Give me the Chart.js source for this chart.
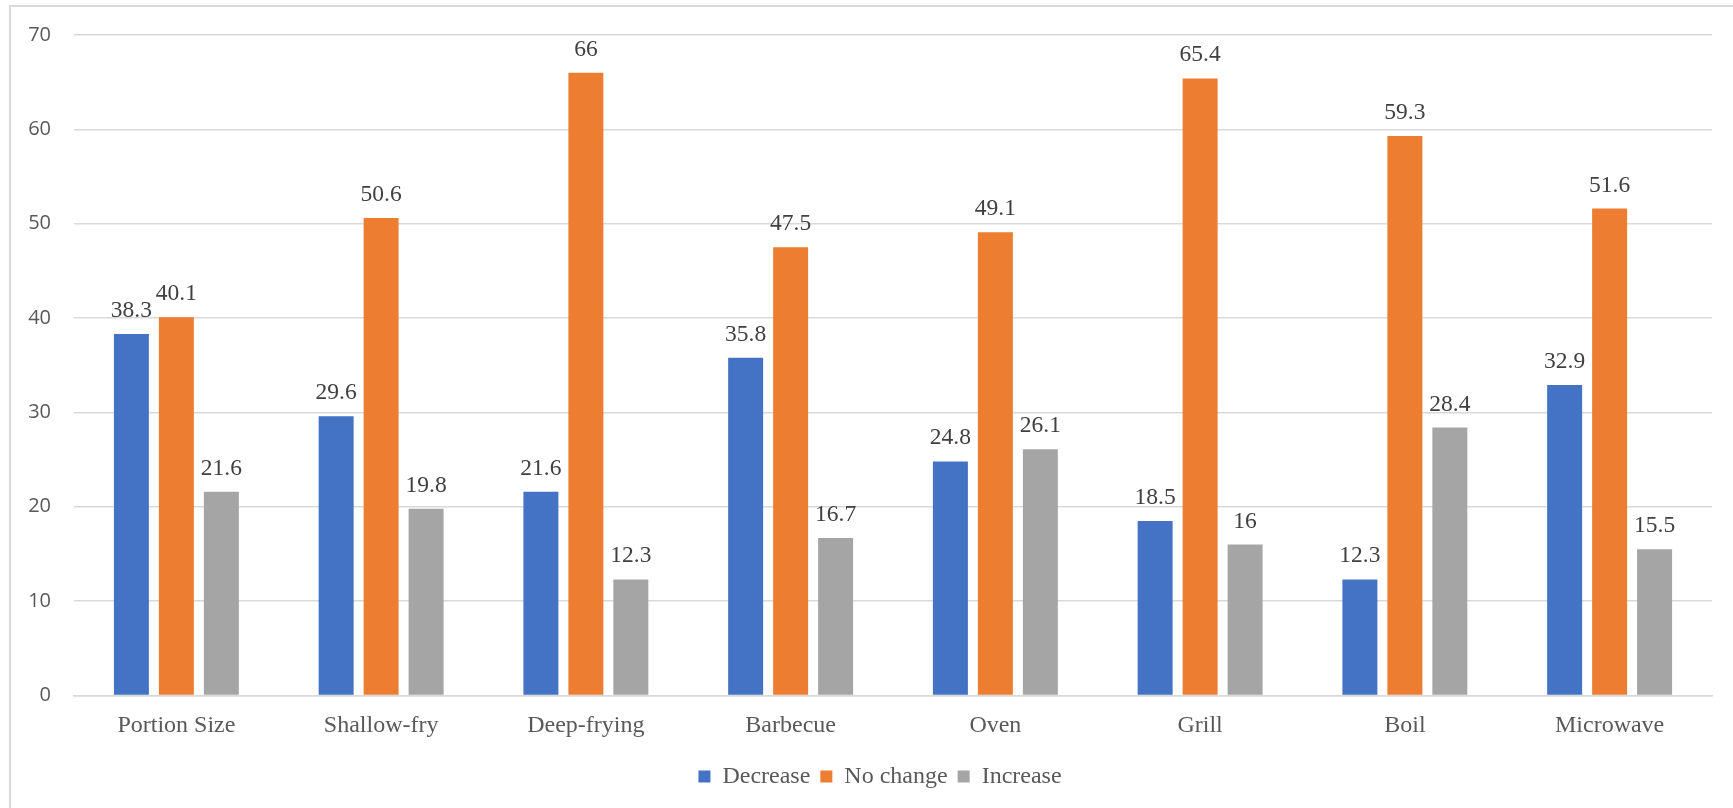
<!DOCTYPE html>
<html>
<head>
<meta charset="utf-8">
<script src="https://cdn.jsdelivr.net/npm/chart.js@4/dist/chart.umd.min.js"></script>
<style>
  html, body { margin: 0; padding: 0; background: #ffffff; }
  #wrap { position: relative; width: 1733px; height: 808px; overflow: hidden; }
  #frame { position: absolute; left: 9px; top: 5px; width: 2000px; height: 1000px;
           border-left: 2px solid #d9d9d9; border-top: 2px solid #d9d9d9; }
  canvas { position: absolute; left: 0; top: 0; }
</style>
</head>
<body>
<div id="wrap">
  <div id="frame"></div>
  <canvas id="chart" width="1733" height="808"></canvas>
</div>
<script>
const categories = ["Portion Size", "Shallow-fry", "Deep-frying", "Barbecue", "Oven", "Grill", "Boil", "Microwave"];
const decrease = [38.3, 29.6, 21.6, 35.8, 24.8, 18.5, 12.3, 32.9];
const noChange = [40.1, 50.6, 66, 47.5, 49.1, 65.4, 59.3, 51.6];
const increase = [21.6, 19.8, 12.3, 16.7, 26.1, 16, 28.4, 15.5];
const yTicks = [0, 10, 20, 30, 40, 50, 60, 70];

const serif = "'Liberation Serif'";
const sans = "'Open Sans'";

// Writes each bar's value just above its top
const valueLabels = {
  id: 'valueLabels',
  afterDatasetsDraw(chart) {
    const ctx = chart.ctx;
    ctx.save();
    ctx.font = "23.5px " + serif;
    ctx.fillStyle = "#404040";
    ctx.textAlign = "center";
    ctx.textBaseline = "alphabetic";
    chart.data.datasets.forEach((ds, i) => {
      const meta = chart.getDatasetMeta(i);
      meta.data.forEach((bar, j) => {
        ctx.fillText(String(ds.data[j]), bar.x, bar.y - 17);
      });
    });
    ctx.restore();
  }
};

// Nudges the legend row slightly left of the plot centre
const legendShift = {
  id: 'legendShift',
  afterLayout(chart) {
    if (chart.legend) {
      chart.legend.left -= 13;
      chart.legend.right -= 13;
    }
  }
};

new Chart(document.getElementById('chart'), {
  type: 'bar',
  data: {
    labels: categories,
    datasets: [
      { label: 'Decrease', data: decrease, backgroundColor: '#4472C4' },
      { label: 'No change', data: noChange, backgroundColor: '#ED7D31' },
      { label: 'Increase', data: increase, backgroundColor: '#A5A5A5' }
    ]
  },
  options: {
    responsive: false,
    animation: false,
    devicePixelRatio: 1,
    layout: { padding: { left: 0, right: 21, top: 35, bottom: 9.5 } },
    datasets: { bar: { categoryPercentage: 0.659, barPercentage: 0.778 } },
    scales: {
      x: {
        grid: { display: false, drawTicks: false },
        border: { display: true, color: '#d9d9d9', width: 1.5 },
        ticks: { color: '#595959', font: { family: serif, size: 24 }, padding: 16 },
        afterFit(scale) { scale.height = 59; }
      },
      y: {
        min: 0, max: 70,
        afterBuildTicks(scale) { scale.ticks = yTicks.map(v => ({ value: v })); },
        grid: { color: '#d9d9d9', lineWidth: 1.5, drawTicks: false },
        border: { display: false },
        ticks: { color: '#595959', font: { family: sans, size: 20 }, padding: 23 },
        afterFit(scale) { scale.width = 74; }
      }
    },
    plugins: {
      legend: {
        position: 'bottom',
        fullSize: false,
        labels: {
          color: '#595959',
          font: { family: serif, size: 24 },
          boxWidth: 12, boxHeight: 12,
          padding: 10
        }
      },
      tooltip: { enabled: false }
    }
  },
  plugins: [valueLabels, legendShift]
});
</script>
</body>
</html>
